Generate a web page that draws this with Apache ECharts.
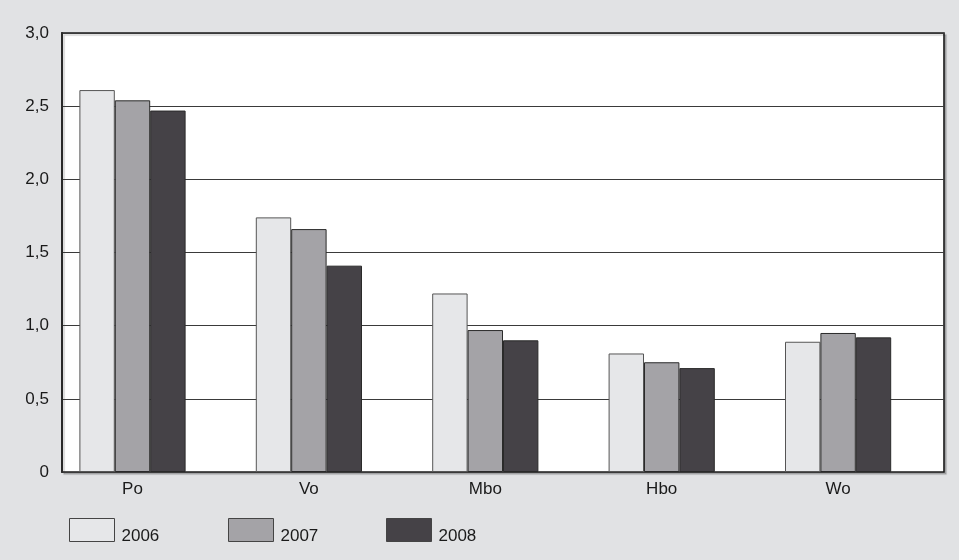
<!DOCTYPE html>
<html>
<head>
<meta charset="utf-8">
<script src="https://cdn.jsdelivr.net/npm/echarts@6/dist/echarts.min.js"></script>
<style>
  html, body { margin: 0; padding: 0; background: #e1e2e4; }
  #chart { width: 959px; height: 560px; }
</style>
</head>
<body>
<div id="chart"></div>
<script>
// Categories and yearly values
const categories = ['Po', 'Vo', 'Mbo', 'Hbo', 'Wo'];
const years = ['2006', '2007', '2008'];
const values2006 = [2.61, 1.74, 1.22, 0.81, 0.89];
const values2007 = [2.54, 1.66, 0.97, 0.75, 0.95];
const values2008 = [2.47, 1.41, 0.90, 0.71, 0.92];
const yTickLabels = ['0', '0,5', '1,0', '1,5', '2,0', '2,5', '3,0'];

const fills = ['#e6e7e9', '#a4a3a7', '#454247'];
const borders = ['#555555', '#2a2a2a', '#2a2a2a'];
const FONT = '"Liberation Sans", Arial, sans-serif';

const chart = echarts.init(document.getElementById('chart'), null, { renderer: 'canvas' });

const seriesData = [values2006, values2007, values2008];
const series = years.map((y, i) => ({
  name: y,
  type: 'bar',
  xAxisIndex: 1,
  yAxisIndex: 1,
  data: seriesData[i],
  barWidth: 35.4,
  barGap: '0%',
  itemStyle: { color: fills[i], borderColor: borders[i], borderWidth: 1 }
}));

// one legend per year so each entry sits at its own spot;
// the year text sits low, next to the bottom of its swatch
const legendLeft = [64, 223, 381];
const legends = years.map((y, i) => ({
  data: [y],
  left: legendLeft[i],
  top: 513,
  orient: 'horizontal',
  icon: 'rect',
  itemWidth: 45,
  itemHeight: 23,
  itemStyle: { borderColor: '#444', borderWidth: 1 },
  formatter: '{t|{name}}',
  textStyle: {
    fontFamily: FONT, fontSize: 17, color: '#1a1a1a',
    rich: { t: { fontFamily: FONT, fontSize: 17, color: '#1a1a1a', padding: [13, 0, 0, 2] } }
  },
  selectedMode: false
}));

chart.setOption({
  backgroundColor: '#e1e2e4',
  animation: false,
  legend: legends,
  grid: [
    // framed plot area with the value scale
    { left: 62, top: 33, width: 882, height: 439, show: true, backgroundColor: '#ffffff',
      borderColor: '#1a1a1a', borderWidth: 1.6,
      shadowColor: 'rgba(0,0,0,0.18)', shadowOffsetX: 2, shadowOffsetY: 2, shadowBlur: 1 },
    // bar area, category bands placed so groups sit where the labels are
    { left: 44.3, top: 33, width: 882, height: 439 }
  ],
  xAxis: [
    { gridIndex: 0, type: 'value', min: 0, max: 1, show: false },
    {
      gridIndex: 1, type: 'category', data: categories,
      axisLine: { show: false }, axisTick: { show: false },
      axisLabel: { fontFamily: FONT, fontSize: 17, color: '#1a1a1a', margin: 9 }
    }
  ],
  yAxis: [
    {
      gridIndex: 0, type: 'value', min: 0, max: 3, interval: 0.5,
      axisLine: { show: true, lineStyle: { color: '#2a2a2a', width: 2 } },
      axisTick: { show: false },
      axisLabel: {
        fontFamily: FONT, fontSize: 17, color: '#1a1a1a', margin: 13,
        formatter: v => yTickLabels[Math.round(v / 0.5)]
      },
      splitLine: { show: true, lineStyle: { color: '#3a3a3a', width: 1 } }
    },
    { gridIndex: 1, type: 'value', min: 0, max: 3, show: false, splitLine: { show: false } }
  ],
  series: series
});
</script>
</body>
</html>
